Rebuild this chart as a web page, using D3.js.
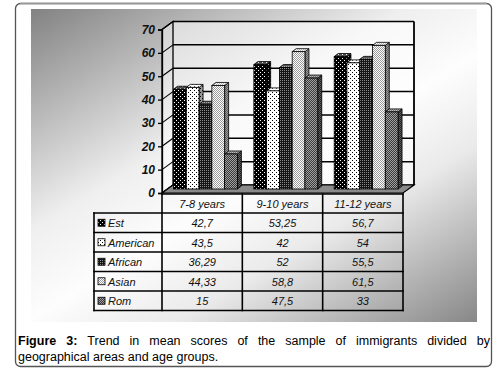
<!DOCTYPE html>
<html>
<head>
<meta charset="utf-8">
<script src="https://cdn.jsdelivr.net/npm/d3@7"></script>
<style>
  body { margin: 0; background: #fff; }
  svg { display: block; font-family: "Liberation Sans", Arial, sans-serif; }
</style>
</head>
<body>
<div class="chart"></div>
<script>
var categories = ["7-8 years", "9-10 years", "11-12 years"];
var seriesNames = ["Est", "American", "African", "Asian", "Rom"];
var est      = [42.7, 53.25, 56.7];
var american = [43.5, 42, 54];
var african  = [36.29, 52, 55.5];
var asian    = [44.33, 58.8, 61.5];
var rom      = [15, 47.5, 33];
var yTicks   = [0, 10, 20, 30, 40, 50, 60, 70];
var captionBold = "Figure 3:";
var captionLine1 = "Trend in mean scores of the sample of immigrants divided by";
var captionLine2 = "geographical areas and age groups.";

var seriesValues = [est, american, african, asian, rom];

var width = 497, height = 372;
var svg = d3.select(".chart").append("svg")
  .attr("width", width)
  .attr("height", height);

var defs = svg.append("defs");

// background gradient of the picture
var grad = defs.append("linearGradient")
  .attr("id", "bg")
  .attr("gradientUnits", "userSpaceOnUse")
  .attr("x1", 120).attr("y1", -60)
  .attr("x2", 380).attr("y2", 380);
[[0, "#7a7a7a"], [0.4, "#efefef"], [0.55, "#fdfdfd"], [0.7, "#eaeaea"], [1, "#878787"]]
  .forEach(function(s) {
    grad.append("stop").attr("offset", s[0]).attr("stop-color", s[1]);
  });

// hatch patterns, one per series
var patternDefs = [
  {bg: "#000", dot: "#fff", size: 4, dots: [[0, 0], [2, 2]]},
  {bg: "#fff", dot: "#000", size: 4, dots: [[0, 0], [2, 2]]},
  {bg: "#151515", dot: "#8a8a8a", size: 2, dots: [[0, 0]]},
  {bg: "#fff", dot: "#999", size: 2, dots: [[0, 0], [1, 1]]},
  {bg: "#3a3a3a", dot: "#a0a0a0", size: 2, dots: [[0, 0], [1, 1]]}
];
patternDefs.forEach(function(p, i) {
  var pat = defs.append("pattern")
    .attr("id", "pat" + i)
    .attr("patternUnits", "userSpaceOnUse")
    .attr("width", p.size).attr("height", p.size);
  pat.append("rect").attr("width", p.size).attr("height", p.size).attr("fill", p.bg);
  p.dots.forEach(function(d) {
    pat.append("rect").attr("x", d[0]).attr("y", d[1])
      .attr("width", 1).attr("height", 1).attr("fill", p.dot);
  });
});

// outer figure box
svg.append("rect")
  .attr("x", 15.5).attr("y", 3.5)
  .attr("width", 476).attr("height", 363)
  .attr("rx", 5)
  .attr("fill", "#fff")
  .attr("stroke", "#555")
  .attr("stroke-width", 1.3);
svg.append("line")
  .attr("x1", 20).attr("x2", 487)
  .attr("y1", 3.5).attr("y2", 3.5)
  .attr("stroke", "#999").attr("stroke-width", 1.5);

svg.append("rect")
  .attr("x", 31).attr("y", 9)
  .attr("width", 446).attr("height", 313)
  .attr("fill", "url(#bg)");

// 3d geometry
var depthX = 11, depthY = 8;           // front plane -> back wall
var frontLeft = 162, frontRight = 403, frontBase = 193;

var x = d3.scaleBand()
  .domain(categories)
  .range([frontLeft, frontRight]);

var y = d3.scaleLinear()
  .domain([0, 70])
  .range([frontBase, frontBase - 163.5]);

var inner = d3.scaleBand()
  .domain(seriesNames)
  .range([x.bandwidth() * 0.075, x.bandwidth() * 0.87]);

var g = svg.append("g");

// back wall
var backL = frontLeft + depthX, backR = frontRight + depthX;
g.append("rect")
  .attr("x", backL).attr("y", y(70) - depthY)
  .attr("width", backR - backL).attr("height", y(0) - y(70))
  .attr("fill", "#fff").attr("fill-opacity", 0.55);

// left wall
g.append("path")
  .attr("d", "M" + frontLeft + "," + y(0) + "L" + frontLeft + "," + y(70) +
    "L" + backL + "," + (y(70) - depthY) + "L" + backL + "," + (y(0) - depthY) + "Z")
  .attr("fill", "#fff").attr("fill-opacity", 0.45)
  .attr("stroke", "#000").attr("stroke-width", 1.3);

// grid lines on the back wall and left wall
yTicks.forEach(function(t) {
  g.append("line")
    .attr("x1", backL).attr("x2", backR)
    .attr("y1", y(t) - depthY).attr("y2", y(t) - depthY)
    .attr("stroke", "#000").attr("stroke-width", 1.5);
  g.append("line")
    .attr("x1", frontLeft).attr("x2", backL)
    .attr("y1", y(t)).attr("y2", y(t) - depthY)
    .attr("stroke", "#000").attr("stroke-width", 1.1);
});
g.append("line")
  .attr("x1", backR).attr("x2", backR)
  .attr("y1", y(70) - depthY).attr("y2", y(0) - depthY)
  .attr("stroke", "#000").attr("stroke-width", 1.8);

// floor
g.append("path")
  .attr("d", "M" + frontLeft + "," + y(0) + "L" + backL + "," + (y(0) - depthY) +
    "L" + backR + "," + (y(0) - depthY) + "L" + frontRight + "," + y(0) + "Z")
  .attr("fill", "#8a8a8a")
  .attr("stroke", "#000").attr("stroke-width", 1.2);

// y axis
var yAxis = g.append("g")
  .attr("transform", "translate(" + frontLeft + ",0)")
  .call(d3.axisLeft(y).tickValues(yTicks).tickSize(4).tickPadding(3));
yAxis.select(".domain").attr("stroke-width", 1.3);
yAxis.selectAll(".tick line").attr("stroke-width", 1.3);
yAxis.selectAll("text")
  .attr("font-family", "'Liberation Sans', Arial, sans-serif")
  .attr("font-size", 12)
  .attr("font-weight", "bold")
  .attr("font-style", "italic")
  .attr("fill", "#111");

// bars, set half way into the depth
var barDx = depthX / 2, barDy = depthY / 2;
var sideX = 4, sideY = 3;
var bars = [];
categories.forEach(function(c, ci) {
  seriesNames.forEach(function(s, si) {
    bars.push({cat: c, si: si, value: seriesValues[si][ci]});
  });
});

var barG = g.selectAll(".bar")
  .data(bars)
  .enter().append("g")
  .attr("class", "bar");

barG.each(function(d) {
  var sel = d3.select(this);
  var x0 = x(d.cat) + inner(seriesNames[d.si]) + barDx;
  var w = inner.bandwidth();
  var yTop = y(d.value) - barDy, yBot = y(0) - barDy;
  var fill = "url(#pat" + d.si + ")";

  var side = "M" + (x0 + w) + "," + yBot + "L" + (x0 + w) + "," + yTop +
    "L" + (x0 + w + sideX) + "," + (yTop - sideY) + "L" + (x0 + w + sideX) + "," + (yBot - sideY) + "Z";
  var top = "M" + x0 + "," + yTop + "L" + (x0 + sideX) + "," + (yTop - sideY) +
    "L" + (x0 + w + sideX) + "," + (yTop - sideY) + "L" + (x0 + w) + "," + yTop + "Z";

  sel.append("path").attr("d", side).attr("fill", fill);
  sel.append("path").attr("d", side).attr("fill", "#000").attr("fill-opacity", 0.4)
    .attr("stroke", "#000").attr("stroke-width", 0.8);
  sel.append("path").attr("d", top).attr("fill", fill);
  sel.append("path").attr("d", top).attr("fill", "#fff").attr("fill-opacity", 0.3)
    .attr("stroke", "#000").attr("stroke-width", 0.8);
  sel.append("rect")
    .attr("x", x0).attr("y", yTop)
    .attr("width", w).attr("height", yBot - yTop)
    .attr("fill", fill)
    .attr("stroke", "#000").attr("stroke-width", 0.8);
});

// data table
var tableLeft = 94, headTop = 194, headH = 19, rowH = 19.5;
var rowY = function(i) { return headTop + headH + i * rowH; };
var tg = svg.append("g");
var tableBottom = rowY(seriesNames.length);

// horizontal rules
tg.append("line")
  .attr("x1", frontLeft).attr("x2", frontRight)
  .attr("y1", headTop).attr("y2", headTop);
d3.range(seriesNames.length + 1).forEach(function(i) {
  tg.append("line")
    .attr("x1", tableLeft).attr("x2", frontRight)
    .attr("y1", rowY(i)).attr("y2", rowY(i));
});
// vertical rules
tg.append("line")
  .attr("x1", tableLeft).attr("x2", tableLeft)
  .attr("y1", rowY(0)).attr("y2", tableBottom);
categories.forEach(function(c) {
  tg.append("line")
    .attr("x1", x(c)).attr("x2", x(c))
    .attr("y1", headTop).attr("y2", tableBottom);
});
tg.append("line")
  .attr("x1", frontRight).attr("x2", frontRight)
  .attr("y1", headTop).attr("y2", tableBottom);
tg.selectAll("line")
  .attr("stroke", "#000").attr("stroke-width", 1.6)
  .attr("stroke-linecap", "square");

var cellText = function(sel) {
  return sel.attr("font-size", 11)
    .attr("font-style", "italic")
    .attr("fill", "#111")
    .attr("dominant-baseline", "central");
};

tg.selectAll(".head")
  .data(categories)
  .enter().append("text")
  .attr("class", "head")
  .attr("x", function(d) { return x(d) + x.bandwidth() / 2; })
  .attr("y", headTop + headH / 2 + 0.5)
  .attr("text-anchor", "middle")
  .text(function(d) { return d; })
  .call(cellText);

seriesNames.forEach(function(s, si) {
  var cy = rowY(si) + rowH / 2;
  tg.append("rect")
    .attr("x", tableLeft + 4).attr("y", cy - 3.5)
    .attr("width", 7).attr("height", 7)
    .attr("fill", "url(#pat" + si + ")")
    .attr("stroke", "#000").attr("stroke-width", 0.8);
  tg.append("text")
    .attr("x", tableLeft + 14).attr("y", cy + 0.5)
    .text(s)
    .call(cellText);
  categories.forEach(function(c, ci) {
    tg.append("text")
      .attr("x", x(c) + x.bandwidth() / 2).attr("y", cy + 0.5)
      .attr("text-anchor", "middle")
      .text(String(seriesValues[si][ci]).replace(".", ","))
      .call(cellText);
  });
});

// caption, first line justified
var capLeft = 18, capRight = 490, capFont = 12.5;
var line1Words = captionBold.split(" ").concat(captionLine1.split(" "));
var boldCount = captionBold.split(" ").length;
var cap = svg.append("g")
  .attr("font-size", capFont)
  .attr("fill", "#000");
var wordNodes = line1Words.map(function(wd, i) {
  return cap.append("text")
    .attr("y", 345)
    .attr("font-weight", i < boldCount ? "bold" : "normal")
    .text(wd);
});
var widths = wordNodes.map(function(n) { return n.node().getComputedTextLength(); });
var gap = (capRight - capLeft - d3.sum(widths)) / (wordNodes.length - 1);
var cx = capLeft;
wordNodes.forEach(function(n, i) {
  n.attr("x", cx);
  cx += widths[i] + gap;
});
cap.append("text")
  .attr("x", capLeft).attr("y", 361)
  .text(captionLine2);
</script>
</body>
</html>
